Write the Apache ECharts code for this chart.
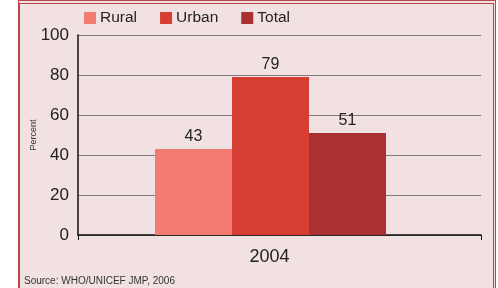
<!DOCTYPE html>
<html>
<head>
<meta charset="utf-8">
<script src="https://cdn.jsdelivr.net/npm/echarts@6/dist/echarts.min.js"></script>
<style>
  html, body { margin: 0; padding: 0; background: #fff; }
  #frame {
    position: absolute; left: 18px; top: 0; width: 473px; height: 300px;
    background: #f1e1e3;
    border-left: 2px solid #b84548;
    border-top: 4px double #b84548;
    border-right: 3px double #b84548;
  }
  #main { position: absolute; left: 0; top: 0; width: 498px; height: 288px; }
</style>
</head>
<body>
<div id="frame"></div>
<div id="main"></div>
<script>
// data
const years = ['2004']
const rural = [43]
const urban = [79]
const total = [51]
const yTicks = [0, 20, 40, 60, 80, 100]

const chart = echarts.init(document.getElementById('main'))
const font = 'Liberation Sans, Arial, sans-serif'

function barSeries(name, data, color) {
  return {
    name: name,
    type: 'bar',
    data: data,
    barWidth: 77,
    barGap: '0%',
    itemStyle: { color: color },
    label: {
      show: true,
      position: 'top',
      distance: 4,
      color: '#222',
      fontSize: 16,
      fontFamily: font
    }
  }
}

chart.setOption({
  backgroundColor: 'transparent',
  textStyle: { fontFamily: font },
  legend: {
    data: ['Rural', 'Urban', 'Total'],
    left: 84,
    top: 10,
    padding: 0,
    itemWidth: 12,
    itemHeight: 12,
    itemGap: 23,
    icon: 'rect',
    textStyle: { fontSize: 15.5, color: '#222', fontFamily: font, padding: [0, 0, 0, -1] }
  },
  grid: { left: 78, right: 17, top: 35, bottom: 53 },
  xAxis: {
    type: 'category',
    data: years,
    axisLine: { lineStyle: { color: '#111', width: 1.5 } },
    axisTick: { show: true, length: 5, lineStyle: { color: '#111' } },
    axisLabel: {
      margin: 13,
      formatter: v => '{a|' + v + '}',
      rich: { a: { fontSize: 18, color: '#222', fontFamily: font, padding: [0, 20, 0, 0] } }
    }
  },
  yAxis: {
    type: 'value',
    min: yTicks[0],
    max: yTicks[yTicks.length - 1],
    interval: 20,
    name: 'Percent',
    nameLocation: 'middle',
    nameGap: 40,
    nameMoveOverlap: false,
    nameTextStyle: { fontSize: 9, color: '#333', fontFamily: font },
    axisLine: { show: true, lineStyle: { color: '#111', width: 1.5 } },
    axisTick: { show: false },
    axisLabel: { fontSize: 17, color: '#222', margin: 9, fontFamily: font },
    splitLine: { lineStyle: { color: '#7f7b7c', width: 1 } }
  },
  series: [
    barSeries('Rural', rural, '#f27b72'),
    barSeries('Urban', urban, '#d63e33'),
    barSeries('Total', total, '#aa3031'),
    // empty slot so the bar group sits left of the band centre
    {
      name: 'gap',
      type: 'bar',
      data: [0],
      barWidth: 18,
      barGap: '0%',
      silent: true,
      itemStyle: { color: 'transparent' }
    }
  ],
  graphic: [{
    type: 'text',
    left: 24,
    top: 276,
    style: { text: 'Source: WHO/UNICEF JMP, 2006', fontSize: 10, fill: '#333', fontFamily: font }
  }]
})
</script>
</body>
</html>
